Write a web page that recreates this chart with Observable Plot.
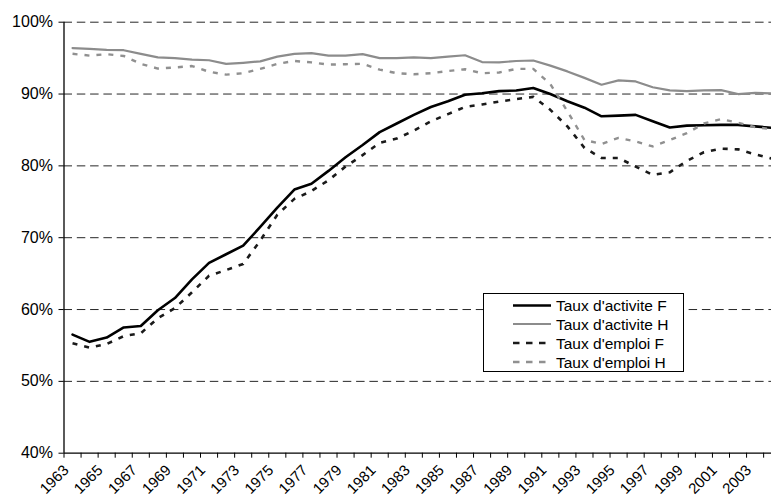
<!DOCTYPE html>
<html><head><meta charset="utf-8">
<script src="https://cdn.jsdelivr.net/npm/d3@7"></script>
<script src="https://cdn.jsdelivr.net/npm/@observablehq/plot@0.6"></script>
<style>
body{margin:0;background:#fff;}
#wrap{position:relative;width:771px;height:502px;overflow:hidden;font-family:"Liberation Sans",Arial,sans-serif;background:#fff;}
#legend{position:absolute;left:0;top:0;pointer-events:none;}
</style></head><body><div id="wrap"></div>
<script>
const years = [1963,1964,1965,1966,1967,1968,1969,1970,1971,1972,1973,1974,1975,1976,1977,1978,1979,1980,1981,1982,1983,1984,1985,1986,1987,1988,1989,1990,1991,1992,1993,1994,1995,1996,1997,1998,1999,2000,2001,2002,2003,2004];
const labelYears = [1963,1965,1967,1969,1971,1973,1975,1977,1979,1981,1983,1985,1987,1989,1991,1993,1995,1997,1999,2001,2003];
const yTicks = [40,50,60,70,80,90,100];
const gridValues = [50,60,70,80,90,100];

const activiteF = [56.5,55.5,56.1,57.5,57.7,59.9,61.6,64.2,66.5,67.7,68.9,71.5,74.2,76.7,77.5,79.3,81.2,82.9,84.7,85.9,87.1,88.2,89.0,89.9,90.1,90.4,90.5,90.85,90.0,89.0,88.1,86.9,87.0,87.1,86.2,85.35,85.6,85.65,85.7,85.7,85.5,85.3];
const activiteH = [96.4,96.3,96.15,96.1,95.6,95.1,95.0,94.8,94.7,94.2,94.35,94.55,95.2,95.6,95.7,95.35,95.35,95.55,95.0,95.0,95.1,95.0,95.2,95.4,94.45,94.4,94.6,94.67,93.95,93.15,92.25,91.3,91.9,91.75,90.95,90.5,90.4,90.5,90.55,90.0,90.15,90.1];
const emploiF = [55.3,54.7,55.2,56.3,56.7,58.8,60.2,62.4,64.7,65.5,66.35,69.6,73.2,75.4,76.5,78.0,79.9,81.5,83.2,83.8,84.9,86.2,87.2,88.2,88.55,88.95,89.3,89.6,87.8,85.5,82.5,81.1,81.1,79.9,78.75,79.1,80.7,81.9,82.4,82.3,81.6,81.0];
const emploiH = [95.6,95.35,95.55,95.3,94.2,93.55,93.7,93.9,93.1,92.7,92.9,93.5,94.2,94.6,94.4,94.1,94.15,94.2,93.4,92.9,92.75,92.9,93.2,93.45,92.9,93.0,93.5,93.5,91.4,87.6,83.6,83.05,83.9,83.4,82.7,83.6,84.55,85.9,86.5,86.0,85.4,85.1];

const seriesNames = ["Taux d'activite F","Taux d'activite H","Taux d'emploi F","Taux d'emploi H"];
const seriesValues = [activiteF, activiteH, emploiF, emploiH];
const seriesStyle = [
  {stroke:"#000000", dash:null, width:2.6},
  {stroke:"#8c8c8c", dash:null, width:2.2},
  {stroke:"#1a1a1a", dash:"5,7", width:2.6},
  {stroke:"#909090", dash:"5,7", width:2.4}
];

const tickBounds = years.map(y => y - 0.5).concat([years[years.length - 1] + 0.5]);

const lineMarks = seriesNames.map((name, s) => {
  const rows = years.map((yr, i) => ({year: yr, value: seriesValues[s][i]}));
  const st = seriesStyle[s];
  const o = {x: "year", y: "value", stroke: st.stroke, strokeWidth: st.width, strokeLinejoin: "round"};
  if (st.dash) { o.strokeDasharray = st.dash; o.strokeLinecap = "butt"; }
  return Plot.line(rows, o);
});

const chart = Plot.plot({
  width: 771, height: 502,
  marginLeft: 63.5, marginRight: -9.2, marginTop: 21.7, marginBottom: 49.3,
  x: {domain: [1962.5, 2004.5], label: null},
  y: {domain: [40, 100], label: null},
  style: {fontFamily: "'Liberation Sans', Arial, sans-serif", fontSize: "16px", color: "#000", background: "#fff", overflow: "hidden"},
  marks: [
    Plot.ruleY(gridValues, {y: d => d, stroke: "#000", strokeOpacity: 0.85, strokeWidth: 1, strokeDasharray: "8.5,4.8"}),
    ...lineMarks,
    Plot.ruleX([1962.5], {x: d => d, stroke: "#000", strokeWidth: 1.3}),
    Plot.ruleY([40], {y: d => d, stroke: "#000", strokeWidth: 1.3}),
    Plot.axisY({ticks: yTicks, tickFormat: d => d + "%", tickSize: 5, tickPadding: 6, fontSize: 16, label: null}),
    Plot.axisX({ticks: tickBounds, tickFormat: () => "", tickSize: 5, label: null}),
    Plot.text(labelYears, {x: d => d, frameAnchor: "bottom", text: d => String(d), rotate: -45, textAnchor: "end", lineAnchor: "bottom", dx: -3, dy: 18, fontSize: 15})
  ]
});
document.getElementById("wrap").appendChild(chart);

// Legend box (overlay)
const lg = d3.select("#wrap").append("svg").attr("id", "legend").attr("width", 771).attr("height", 502);
const bx = 483.5, by = 293.5, bw = 200, bh = 78;
lg.append("rect").attr("x", bx).attr("y", by).attr("width", bw).attr("height", bh)
  .attr("fill", "#fff").attr("stroke", "#000").attr("stroke-width", 1);
const rowY = [305.5, 324, 343, 362];
seriesNames.forEach((name, i) => {
  const st = seriesStyle[i];
  const ln = lg.append("line").attr("x1", 513).attr("x2", 551).attr("y1", rowY[i]).attr("y2", rowY[i])
    .attr("stroke", st.stroke).attr("stroke-width", st.width);
  if (st.dash) ln.attr("stroke-dasharray", "6.5,6.5");
  lg.append("text").attr("x", 556).attr("y", rowY[i]).attr("dy", "0.36em")
    .attr("font-family", "'Liberation Sans', Arial, sans-serif").attr("font-size", 15.5).attr("fill", "#000")
    .text(name);
});
</script></body></html>
